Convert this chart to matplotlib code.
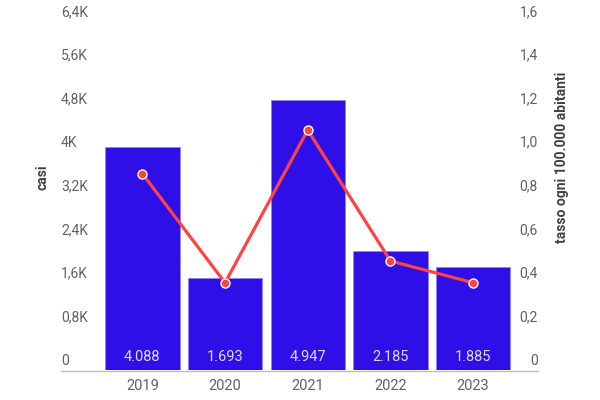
import matplotlib
matplotlib.use("Agg")
import matplotlib.pyplot as plt
import matplotlib.transforms as mtransforms
from matplotlib.lines import Line2D

plt.rcParams['font.family'] = ['Roboto', 'DejaVu Sans']

years = ["2019", "2020", "2021", "2022", "2023"]
casi = [4088, 1693, 4947, 2185, 1885]
tasso = [0.90, 0.40, 1.10, 0.50, 0.40]
left_ticks = [0, 800, 1600, 2400, 3200, 4000, 4800, 5600, 6400]
right_ticks = [0, 0.2, 0.4, 0.6, 0.8, 1.0, 1.2, 1.4, 1.6]

bar_color = "#2f0fe8"
line_color = "#ff4242"
tick_color = "#616161"
label_color = "#424242"

W, H = 600, 400
fig = plt.figure(figsize=(6, 4), dpi=100)
ax = fig.add_axes([101 / W, 1 - 370 / H, (514.5 - 101) / W, (370 - 21) / H])
ax2 = ax.twinx()

x = list(range(len(years)))
ax.bar(x, casi, width=0.9, color=bar_color, edgecolor="#8f80f2", linewidth=0.5, zorder=2)
ax.set_xlim(-0.5, len(years) - 0.5)
ax.set_ylim(0, left_ticks[-1])
ax2.set_ylim(0, right_ticks[-1])

ax2.plot(x, tasso, color=line_color, linewidth=2.3, marker="o", markersize=6.5,
         markerfacecolor=line_color, markeredgecolor="white", markeredgewidth=1.0, zorder=3)

for a in (ax, ax2):
    a.set_yticks([])
    for s in a.spines.values():
        s.set_visible(False)
ax.set_xticks([])

def fmt_left(v):
    if v == 0:
        return "0"
    k = v / 1000
    s = ("%g" % k).replace(".", ",")
    return s + "K"

def fmt_right(v):
    if v == 0:
        return "0"
    return ("%.1f" % v).replace(".", ",")

tl = mtransforms.blended_transform_factory(fig.transFigure, ax.transData)
for v in left_ticks:
    ax.annotate(fmt_left(v), xy=(61 / W, v), xycoords=tl, xytext=(0, 1.5),
                textcoords="offset points", ha="left", va="bottom",
                fontsize=10, color=tick_color)

tr = mtransforms.blended_transform_factory(fig.transFigure, ax2.transData)
for v in right_ticks:
    ax2.annotate(fmt_right(v), xy=(538 / W, v), xycoords=tr, xytext=(0, 1.5),
                 textcoords="offset points", ha="right", va="bottom",
                 fontsize=10, color=tick_color)

# category labels
tx = mtransforms.blended_transform_factory(ax.transData, fig.transFigure)
for i, y in enumerate(years):
    ax.text(i, 1 - 386 / H, y, transform=tx, ha="center", va="center",
            fontsize=10.5, color=tick_color)

# bar value labels
for i, v in enumerate(casi):
    ax.text(i, 1 - 357 / H, f"{v:,}".replace(",", "."), transform=tx,
            ha="center", va="center", fontsize=10.5, color="#ddd8ff", zorder=4)

# baseline
fig.add_artist(Line2D([61 / W, 538 / W], [1 - 370.5 / H, 1 - 370.5 / H],
                      transform=fig.transFigure, color="#bdbdbd", linewidth=1.0))

fig.text(42 / W, 1 - 177 / H, "casi", rotation=90, ha="center", va="center",
         fontsize=10, fontweight="bold", color=label_color)
fig.text(562 / W, 1 - 157 / H, "tasso ogni 100.000 abitanti", rotation=90,
         ha="center", va="center", fontsize=10, fontweight="bold", color=label_color)

fig.savefig("out.png", dpi=100)
